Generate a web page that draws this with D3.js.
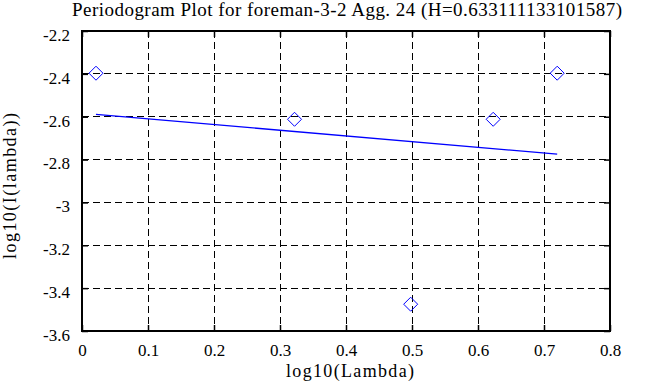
<!DOCTYPE html>
<html>
<head>
<meta charset="utf-8">
<script src="https://cdn.jsdelivr.net/npm/d3@7"></script>
<style>
  body { margin: 0; background: #fff; }
</style>
</head>
<body>
<div id="chart-area"></div>
<script>
// periodogram points (log10 lambda, log10 I(lambda))
var pointX = [0.0212, 0.322, 0.498, 0.623, 0.720];
var pointY = [-2.397, -2.612, -3.475, -2.612, -2.397];

// fitted line endpoints
var lineX = [0.0212, 0.720];
var lineY = [-2.589, -2.775];

var xTicks = [0, 0.1, 0.2, 0.3, 0.4, 0.5, 0.6, 0.7, 0.8];
var yTicks = [-2.2, -2.4, -2.6, -2.8, -3, -3.2, -3.4, -3.6];

var titleText = "Periodogram Plot for foreman-3-2 Agg. 24 (H=0.633111133101587)";

var serif = "'Liberation Serif', 'Times New Roman', serif";

//set margins
var margin = {left: 82, top: 31, right: 53, bottom: 56};
var width = 663 - margin.left - margin.right,
    height = 387 - margin.top - margin.bottom;

var svg = d3.select("#chart-area")
  .append("svg")
  .attr("width", 663)
  .attr("height", 387);

var group = svg.append("g")
  .attr("transform", "translate(" + margin.left + "," + margin.top + ")");

var x = d3.scaleLinear().domain([0, 0.8]).range([0, width]);
var y = d3.scaleLinear().domain([-3.6, -2.2]).range([height, 0]);

// grid lines
group.selectAll(".vgrid")
  .data(xTicks.slice(1, -1))
  .enter().append("line")
  .attr("x1", function(d){ return x(d); })
  .attr("x2", function(d){ return x(d); })
  .attr("y1", 0).attr("y2", height)
  .attr("stroke", "#000").attr("stroke-width", 1)
  .attr("stroke-dasharray", "7,4")
  .attr("shape-rendering", "crispEdges");

group.selectAll(".hgrid")
  .data(yTicks.slice(1, -1))
  .enter().append("line")
  .attr("y1", function(d){ return y(d); })
  .attr("y2", function(d){ return y(d); })
  .attr("x1", 0).attr("x2", width)
  .attr("stroke", "#000").attr("stroke-width", 1)
  .attr("stroke-dasharray", "7,4")
  .attr("shape-rendering", "crispEdges");

// axes with inward ticks, plain hyphen for minus
var fmt = function(d){ return String(+d.toFixed(1)); };

var xBottom = group.append("g")
  .attr("transform", "translate(0," + height + ")")
  .call(d3.axisBottom(x).tickValues(xTicks).tickSize(-6).tickPadding(13).tickFormat(fmt));
var xTop = group.append("g")
  .call(d3.axisTop(x).tickValues(xTicks).tickSize(-6).tickFormat(""));
var yLeft = group.append("g")
  .call(d3.axisLeft(y).tickValues(yTicks).tickSize(-6).tickPadding(12).tickFormat(fmt));
var yRight = group.append("g")
  .attr("transform", "translate(" + width + ",0)")
  .call(d3.axisRight(y).tickValues(yTicks).tickSize(-6).tickFormat(""));

[xBottom, xTop, yLeft, yRight].forEach(function(a){
  a.attr("font-family", serif).attr("font-size", 16);
  a.select(".domain").remove();
  a.selectAll(".tick line").attr("stroke", "#000").attr("stroke-width", 1.5);
  a.selectAll("text")
    .style("font-family", serif)
    .style("font-size", "17px")
    .attr("fill", "#000");
});
xBottom.selectAll("text").attr("dy", "0.71em");
yLeft.selectAll("text").attr("dy", "0.55em");

// frame
group.append("rect")
  .attr("x", 0).attr("y", 0)
  .attr("width", width).attr("height", height)
  .attr("fill", "none")
  .attr("stroke", "#000").attr("stroke-width", 2);

// fitted line
var lineData = lineX.map(function(d, i){ return [d, lineY[i]]; });
group.append("path")
  .datum(lineData)
  .attr("d", d3.line().x(function(d){ return x(d[0]); }).y(function(d){ return y(d[1]); }))
  .attr("fill", "none")
  .attr("stroke", "#0000ff")
  .attr("stroke-width", 1.3);

// diamond markers
var pts = pointX.map(function(d, i){ return {x: d, y: pointY[i]}; });
group.selectAll(".pt")
  .data(pts)
  .enter().append("path")
  .attr("transform", function(d){ return "translate(" + x(d.x) + "," + y(d.y) + ")"; })
  .attr("d", "M0,-7L7,0L0,7L-7,0Z")
  .attr("fill", "none")
  .attr("stroke", "#0000ff")
  .attr("stroke-width", 1);

// title
svg.append("text")
  .attr("x", 347)
  .attr("y", 15.5)
  .attr("text-anchor", "middle")
  .attr("textLength", 550)
  .attr("lengthAdjust", "spacing")
  .style("font-family", serif)
  .style("font-size", "19px")
  .text(titleText);

// x label
svg.append("text")
  .attr("x", 350)
  .attr("y", 377)
  .attr("text-anchor", "middle")
  .attr("textLength", 128)
  .attr("lengthAdjust", "spacing")
  .style("font-family", serif)
  .style("font-size", "18px")
  .text("log10(Lambda)");

// y label
svg.append("text")
  .attr("transform", "translate(16,186) rotate(-90)")
  .attr("text-anchor", "middle")
  .attr("textLength", 146)
  .attr("lengthAdjust", "spacing")
  .style("font-family", serif)
  .style("font-size", "18px")
  .text("log10(I(lambda))");
</script>
</body>
</html>
